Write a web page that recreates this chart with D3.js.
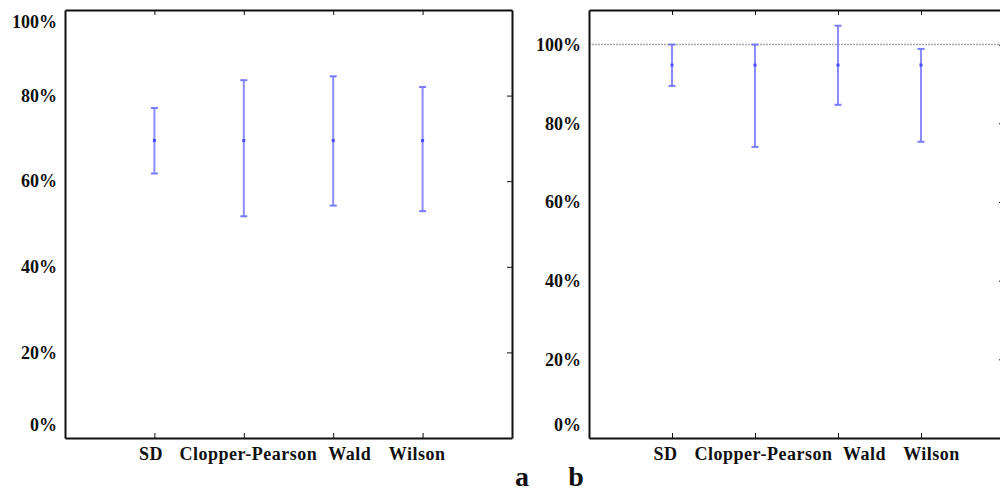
<!DOCTYPE html>
<html>
<head>
<meta charset="utf-8">
<script src="https://cdn.jsdelivr.net/npm/d3@7"></script>
<style>
body{margin:0;background:#fff;}
svg text{font-family:"Liberation Serif","Times New Roman",serif;font-weight:bold;}
.axis path,.axis line{stroke:#111;}
</style>
</head>
<body>
<svg id="chart" width="1000" height="494"></svg>
<script>
// data
const methods = ["SD","Clopper-Pearson","Wald","Wilson"];
const yTicks = [0,0.2,0.4,0.6,0.8,1.0];

const estA = [0.695,0.695,0.695,0.695];
const lowA = [0.618,0.518,0.543,0.530];
const highA = [0.771,0.836,0.845,0.820];

const estB = [0.948,0.948,0.948,0.948];
const lowB = [0.895,0.740,0.847,0.753];
const highB = [1.0,1.0,1.048,0.989];

const svg = d3.select("#chart");

function panel(opt){
    const {left, top, width, height, yMax, est, low, high, refLine, label, labelX, shift} = opt;
    const g = svg.append("g").attr("transform",`translate(${left},${top})`);

    const x = d3.scaleLinear().domain([0,methods.length+1]).range([0,width]);
    const y = d3.scaleLinear().domain([0,yMax]).range([height,0]);

    const pos = methods.map((d,i)=>i+1);

    // reference line
    if(refLine){
        g.append("line")
        .attr("x1",0).attr("x2",width)
        .attr("y1",y(1)).attr("y2",y(1))
        .attr("stroke","#aaa")
        .attr("stroke-width",1.5)
        .attr("stroke-dasharray","2,1");
    }

    // bottom axis with labels
    const xb = g.append("g").attr("class","axis")
    .attr("transform",`translate(0,${height})`)
    .call(d3.axisBottom(x).tickValues(pos).tickFormat((d,i)=>methods[i]).tickSizeInner(-5).tickSizeOuter(0).tickPadding(9));
    xb.select(".domain").attr("stroke-width",2);
    xb.selectAll("text").attr("font-size",18).attr("fill","#111")
    .attr("letter-spacing","0.5px")
    .attr("dx",(d,i)=>shift[i]);

    // top axis ticks only
    const xt = g.append("g").attr("class","axis")
    .call(d3.axisTop(x).tickValues(pos).tickFormat("").tickSizeInner(-5).tickSizeOuter(0));
    xt.select(".domain").attr("stroke-width",2);

    // left axis labels
    const yl = g.append("g").attr("class","axis")
    .call(d3.axisLeft(y).tickValues(yTicks).tickFormat(d=>Math.round(d*100)+"%").tickSizeInner(0).tickSizeOuter(0).tickPadding(8));
    yl.select(".domain").attr("stroke-width",2);
    yl.selectAll("text").attr("font-size",18).attr("fill","#111")
    .attr("dy",d=> d===0 ? "-0.4em" : (d===1 && yMax<=1 ? "0.95em" : "0.32em"));

    // right axis ticks only
    const yr = g.append("g").attr("class","axis")
    .attr("transform",`translate(${width},0)`)
    .call(d3.axisRight(y).tickValues(yTicks.filter(d=>d>0 && d<yMax-0.01)).tickFormat("").tickSizeInner(-5).tickSizeOuter(0));
    yr.select(".domain").attr("stroke-width",2);

    // error bars
    const bars = g.append("g");
    pos.forEach((p,i)=>{
        const cx = x(p);
        bars.append("line")
        .attr("x1",cx).attr("x2",cx)
        .attr("y1",y(low[i])).attr("y2",y(high[i]))
        .attr("stroke","#8c8cff").attr("stroke-width",2);
        [low[i],high[i]].forEach(v=>{
            bars.append("line")
            .attr("x1",cx-3.5).attr("x2",cx+3.5)
            .attr("y1",y(v)).attr("y2",y(v))
            .attr("stroke","#7a7aff").attr("stroke-width",2);
        });
        bars.append("rect")
        .attr("x",cx-1.5).attr("y",y(est[i])-1.5)
        .attr("width",3).attr("height",3)
        .attr("fill","#4b4bff");
    });

    svg.append("text")
    .attr("x",labelX).attr("y",486)
    .attr("text-anchor","middle")
    .attr("font-size",28)
    .attr("fill","#111")
    .text(label);
}

panel({left:65, top:10, width:447, height:428, yMax:1.0, est:estA, low:lowA, high:highA, refLine:false, label:"a", labelX:522, shift:[-4,4,16,-6]});
panel({left:589, top:10, width:415, height:428, yMax:1.088, est:estB, low:lowB, high:highB, refLine:true, label:"b", labelX:576, shift:[-7,8,26,10]});
</script>
</body>
</html>
